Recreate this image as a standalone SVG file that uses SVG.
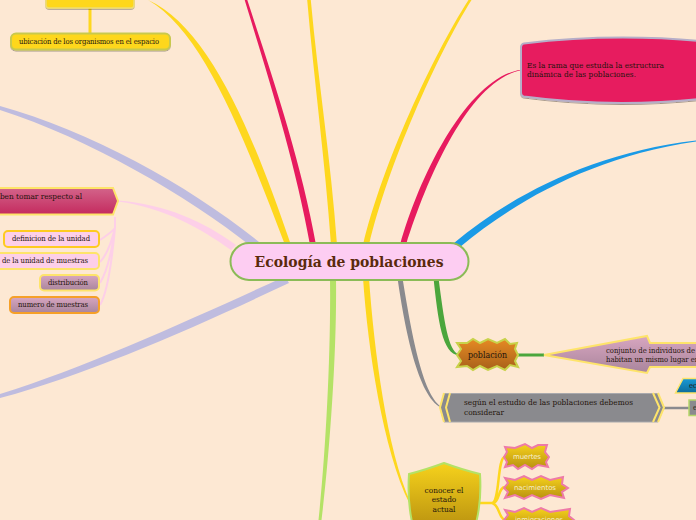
<svg xmlns="http://www.w3.org/2000/svg" width="696" height="520" viewBox="0 0 696 520">
<defs>
<linearGradient id="gCrim" x1="0" y1="0" x2="0" y2="1"><stop offset="0" stop-color="#d3648a"/><stop offset="1" stop-color="#c42a5e"/></linearGradient>
<linearGradient id="gMauve" x1="0" y1="0" x2="0" y2="1"><stop offset="0" stop-color="#d8a6c0"/><stop offset="1" stop-color="#a9859c"/></linearGradient>
<linearGradient id="gOrange" x1="0" y1="0" x2="0" y2="1"><stop offset="0" stop-color="#e68a24"/><stop offset="1" stop-color="#a8611a"/></linearGradient>
<linearGradient id="gGold" x1="0" y1="0" x2="0" y2="1"><stop offset="0" stop-color="#f6d21c"/><stop offset="1" stop-color="#b8900f"/></linearGradient>
<linearGradient id="gBlue" x1="0" y1="0" x2="0" y2="1"><stop offset="0" stop-color="#1a9ad6"/><stop offset="1" stop-color="#0d6c9a"/></linearGradient>
<filter id="sh" x="-10%" y="-20%" width="120%" height="150%"><feDropShadow dx="0" dy="1" stdDeviation="0.7" flood-color="#000" flood-opacity="0.35"/></filter>
<style>
.l{fill:none}
.t{font-family:"DejaVu Serif Condensed","DejaVu Serif","Liberation Serif",serif;font-size:7.600px;fill:#24140c}
.b{font-size:8.200px}
.s{font-family:"DejaVu Sans","Liberation Sans",sans-serif;font-size:7px;fill:#f6eecb}
</style>
</defs>
<rect width="696" height="520" fill="#fde8d3"/>
<g id="connectors">
<path d="M0 106C90 131 190 186 259 242L252 247C186 195 90 139 0 110Z" fill="#bfbcdf"/>
<path d="M0 394C90 366 200 315 285 276.500L289 283C200 325 90 374 0 398Z" fill="#bfbcdf"/>
<path d="M118 200.500C165 204 205 222 236 245L231 250C200 228 165 208 118 201.500Z" fill="#fdcfe8"/>
<path class="l" d="M115 217V228C112 232 106 236 100 240M115 228C112 240 108 254 100 262M115 228C112 250 108 270 100 283M115 228C112 260 108 292 100 305" stroke="#fdcfe8" stroke-width="2"/>
<path d="M148 0C203 32 242 132 285 245H291C251 128 208 27 148 0Z" fill="#fed71e"/>
<path class="l" d="M90 5V34" stroke="#fed71e" stroke-width="3"/>
<path d="M244.700 0C266 70 295 160 310 245H316C301 160 270 70 247.300 0Z" fill="#e71b5f"/>
<path d="M307.200 0C314 80 325 160 331 245H337C331 160 318 80 310.800 0Z" fill="#fed71e"/>
<path d="M468.500 0C433 55 382 165 363 245H369C388 165 437 55 471.500 0Z" fill="#fed71e"/>
<path d="M521 69.700C470 77 421 170 400 245H406C429 172 471 80 521 70.300Z" fill="#e71b5f"/>
<path d="M696 140.500C590 153 509 197 454 243L460 247C513 203 590 157 696 141.500Z" fill="#1a9ae6"/>
<path d="M318.500 520C326 450 331 350 330 278H336C337 350 330 450 321.500 520Z" fill="#b4e266"/>
<path d="M363 278C368 350 383 450 409.500 503.500L410.500 502.500C387 450 374 350 369 278Z" fill="#fed71e"/>
<path d="M397.500 278C405 330 418 396 441 407.500V406.500C422 394 411 330 402.500 278Z" fill="#8a8a8e"/>
<path d="M433.500 278C438 320 442 354 459 355.500V354.500C448 351 444 320 438.500 278Z" fill="#4ba63c"/>
<path class="l" d="M518 355H544" stroke="#4ba63c" stroke-width="3"/>
<path class="l" d="M664 408H690" stroke="#8a8a8e" stroke-width="2.500"/>
<path class="l" d="M479 503H492C500 503 497 457 505 457M492 503C500 503 498 487 505 487M492 503C500 505 498 518 505 520" stroke="#fed71e" stroke-width="2.500"/>
</g>
<g id="node-top-box"><rect x="46" y="-16" width="88" height="24" rx="3" fill="#fed71e" stroke="#f0dd70" stroke-width="1.500" filter="url(#sh)"/></g>
<g id="node-ubicacion"><rect x="11" y="33.500" width="159" height="16" rx="5" fill="#fed71e" stroke="#c8c94e" stroke-width="2" filter="url(#sh)"/><text class="t" x="19" y="44" textLength="140">ubicación de los organismos en el espacio</text></g>
<g id="node-respecto"><path d="M-10 188H113L118 201L113 214.500H-10Z" fill="url(#gCrim)" stroke="#fee46a" stroke-width="2"/><text class="t b" x="82" y="198.500" text-anchor="end">deben tomar respecto al</text></g>
<g id="node-definicion"><rect x="4" y="231" width="95" height="16" rx="4" fill="#fdcfe8" stroke="#fecb20" stroke-width="2"/><text class="t" x="12" y="241" textLength="78">definicion de la unidad</text></g>
<g id="node-unidad"><rect x="-20" y="253" width="119" height="16" rx="4" fill="#fdcfe8" stroke="#fee46a" stroke-width="2"/><text class="t" x="2" y="263" textLength="86">de la unidad de muestras</text></g>
<g id="node-distribucion"><rect x="40" y="275" width="59" height="15.500" rx="4" fill="url(#gMauve)" stroke="#fee46a" stroke-width="2"/><text class="t" x="48" y="285" textLength="40">distribución</text></g>
<g id="node-numero"><rect x="10" y="297" width="89" height="16" rx="4" fill="url(#gMauve)" stroke="#f6a028" stroke-width="2"/><text class="t" x="18" y="307" textLength="70">numero de muestras</text></g>
<g id="node-rama"><path d="M524 43.500Q610 33 700 41V99Q610 108 524 96.500Q521 96 521 92V48Q521 44 524 43.500Z" fill="#e71b5f" stroke="#b6aec8" stroke-width="2" filter="url(#sh)"/><text class="t b" x="527" y="68" textLength="137">Es la rama que estudia la estructura</text><text class="t b" x="527" y="77" textLength="109">dinámica de las poblaciones.</text></g>
<g id="node-poblacion"><path d="M457 343L467 343L473 339L480 343L488 339L497 343L505 339L510 344L517 343L515 349L518 355L515 361L518 367L510 365L505 370L497 366L488 370L480 366L473 370L467 366L457 367L461 361L457 355L461 349Z" fill="url(#gOrange)" stroke="#c8d24a" stroke-width="2"/><text class="t" style="font-size:8.800px" x="468" y="358" textLength="39">población</text></g>
<g id="node-conjunto"><path d="M544 355L647 336L650 343H700V367H650L647 373Z" fill="url(#gMauve)" stroke="#fee46a" stroke-width="2"/><text class="t" x="606" y="353">conjunto de individuos de</text><text class="t" x="606" y="361.500">habitan un mismo lugar en</text></g>
<g id="node-segun"><path d="M444 393.500H658L664 407.500L658 422H444L440 407.500Z" fill="#8a8a8e" stroke="#a9a9ad" stroke-width="1"/><path class="l" d="M450 393L446 407.500L450 422M444 393L440 407.500L444 422M653 393L659.500 407.500L653 422M658 393L664 407.500L658 422" stroke="#fee46a" stroke-width="2"/><text class="t b" x="464" y="405" textLength="169">según el estudio de las poblaciones debemos</text><text class="t b" x="464" y="415">considerar</text></g>
<g id="node-ec"><path d="M675.500 393L683 378.500H700V393Z" fill="url(#gBlue)" stroke="#fee46a" stroke-width="1.500"/><text class="t" x="689" y="388">ec</text></g>
<g id="node-gris"><rect x="689" y="400" width="14" height="15.500" fill="#8a8a8e" stroke="#b4d66a" stroke-width="1.500"/><text class="t" x="693" y="410">e</text></g>
<g id="node-conocer"><path d="M444 463Q463 470 480 474Q482 505 474 530H414Q407 505 409 474Q425 470 444 463Z" fill="url(#gGold)" stroke="#b4e266" stroke-width="2"/><text class="t b" x="444" y="493" text-anchor="middle">conocer el</text><text class="t b" x="444" y="502" text-anchor="middle">estado</text><text class="t b" x="444" y="512" text-anchor="middle">actual</text></g>
<g id="node-muertes"><path d="M505 447L515 448L525 444L532 448L538 445L547 445L545 452L549 457L546 462L548 467L538 465L532 469L525 465L518 469L513 465L505 467L507 462L504 457L507 452Z" fill="url(#gGold)" stroke="#ee7aa8" stroke-width="2"/><text class="s" x="513" y="459" textLength="28">muertes</text></g>
<g id="node-nacimientos"><path d="M505 478L515 480L524 476L532 480L541 476L550 480L563 477L562 484L568 488L562 492L564 498L550 495L541 499L532 495L524 499L515 495L505 498L508 492L504 488L508 483Z" fill="url(#gGold)" stroke="#ee7aa8" stroke-width="2"/><text class="s" x="514" y="490" textLength="42">nacimientos</text></g>
<g id="node-inmigraciones"><path d="M505 510L515 512L524 508L532 512L541 508L550 512L570 509L569 516L574 520L569 525L505 530L508 525L504 520L508 515Z" fill="url(#gGold)" stroke="#ee7aa8" stroke-width="2"/><text class="s" x="515" y="522" textLength="48">inmigraciones</text></g>
<g id="node-central"><rect x="230.500" y="243" width="238" height="37" rx="18.500" fill="#fdcdf2" stroke="#8bbb57" stroke-width="2"/><text x="349" y="267" text-anchor="middle" font-family="'DejaVu Serif Condensed','DejaVu Serif','Liberation Serif',serif" font-size="15.500" font-weight="700" fill="#5a2a0c" textLength="189">Ecología de poblaciones</text></g>
</svg>
